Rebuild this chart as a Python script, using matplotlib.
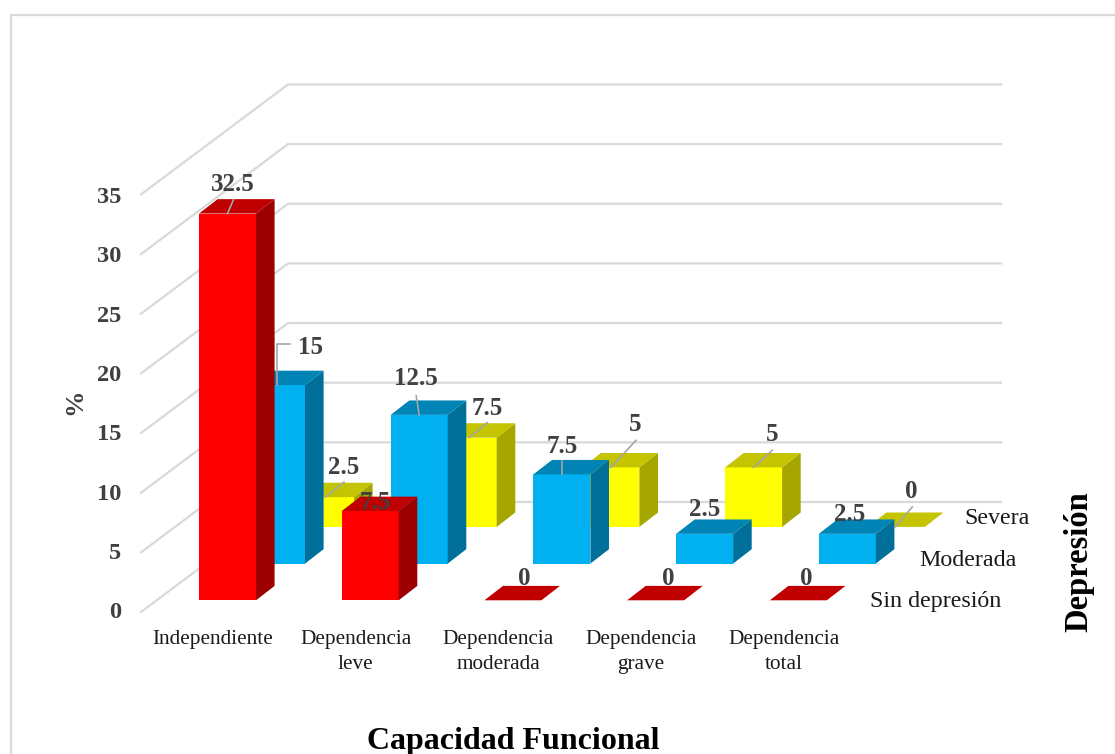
import matplotlib
matplotlib.use('Agg')
import matplotlib.pyplot as plt
from matplotlib.patches import Polygon

plt.rcParams['font.family'] = ['Liberation Serif', 'DejaVu Serif']

categories = ['Independiente', 'Dependencia\nleve', 'Dependencia\nmoderada', 'Dependencia\ngrave', 'Dependencia\ntotal']
series_names = ['Sin depresión', 'Moderada', 'Severa']
sin_depresion = [32.5, 7.5, 0, 0, 0]
moderada = [15, 12.5, 7.5, 2.5, 2.5]
severa = [2.5, 7.5, 5, 5, 0]
y_ticks = [0, 5, 10, 15, 20, 25, 30, 35]

# fake 3d layout, everything in pixels
X0 = 199.0          # left edge of first front bar
BASE = 600.3        # floor of the front row
CAT_STEP = 142.7
ROW_DX = 49.0
ROW_DY = 36.7
BAR_W = 57.0
DEPTH_X = 18.6
DEPTH_Y = 14.4
UNIT = 11.9

WALL_X0 = 141.0
WALL_X1 = 288.0
WALL_X2 = 1001.0
WALL_Y0 = 612.0
WALL_Y1 = 502.0
WALL_UNIT = 11.93

GRID = '#d9d9d9'
LABEL = '#404040'
LEADER = '#a6a6a6'

# (front, top, side)
row_colors = [('#ff0000', '#c00000', '#9c0000'),
              ('#00b0f0', '#0084b5', '#00709a'),
              ('#ffff00', '#c4c400', '#a6a600')]

# label centre relative to the middle of the bar top, one list per row
label_offsets = [[(5.5, -29), (5, -9), (11, -22), (13, -22), (8, -22)],
                 [(33.5, -38), (-3, -36), (0, -28), (0, -24), (2, -19)],
                 [(18.5, -30), (19, -29), (24, -43), (18.5, -33), (15, -35)]]
# leader start relative to the bar top middle, the end is given as x shift on the top edge
leader_offsets = [[((6, -14), 0), None, None, None, None],
                  [None, ((-3, -19), 0), ((0, -13), 0), None, None],
                  [((18.5, -15), 0), ((19, -15), 1), ((25, -27), 0), ((18.5, -17), 0), ((16, -20), -1)]]


def bar_box(cat, row, value):
    left = X0 + cat * CAT_STEP + row * ROW_DX
    bottom = BASE - row * ROW_DY
    return left, bottom, bottom - value * UNIT


def draw_bar(ax, cat, row, value, z):
    left, bottom, top = bar_box(cat, row, value)
    right = left + BAR_W
    front, roof, side = row_colors[row]
    if value > 0:
        ax.add_patch(Polygon([(left, bottom), (right, bottom), (right, top), (left, top)],
                             fc=front, ec='none', zorder=z))
        ax.add_patch(Polygon([(right, bottom), (right + DEPTH_X, bottom - DEPTH_Y),
                              (right + DEPTH_X, top - DEPTH_Y), (right, top)],
                             fc=side, ec='none', zorder=z))
    ax.add_patch(Polygon([(left, top), (right, top), (right + DEPTH_X, top - DEPTH_Y),
                          (left + DEPTH_X, top - DEPTH_Y)], fc=roof, ec='none', zorder=z))


fig = plt.figure(figsize=(11.15, 7.54), dpi=100)
ax = fig.add_axes([0, 0, 1, 1])
ax.set_xlim(0, 1115)
ax.set_ylim(754, 0)
ax.axis('off')

# chart frame, only top and left show up
ax.plot([11, 11, 1115], [754, 15, 15], color=GRID, lw=1.6, solid_joinstyle='miter', zorder=0)

# side wall and back wall lines
for v in y_ticks:
    ax.plot([WALL_X0, WALL_X1, WALL_X2],
            [WALL_Y0 - v * WALL_UNIT, WALL_Y1 - v * WALL_UNIT, WALL_Y1 - v * WALL_UNIT],
            color=GRID, lw=1.6, solid_joinstyle='miter', zorder=0)
    ax.text(121, 613 - v * 11.88, str(v), ha='right', va='center', fontsize=17.6,
            fontweight='bold', color=LABEL)

rows = [sin_depresion, moderada, severa]

# back row first so the front ones cover it
for row in [2, 1, 0]:
    for cat, value in enumerate(rows[row]):
        draw_bar(ax, cat, row, value, 3 - row)

# labels go on top of all the bars
for row in [2, 1, 0]:
    for cat, value in enumerate(rows[row]):
        left, bottom, top = bar_box(cat, row, value)
        mid = left + BAR_W / 2
        lead = leader_offsets[row][cat]
        if lead is not None:
            (sx, sy), ex = lead
            ax.plot([mid + sx, mid + ex], [top + sy, top], color=LEADER, lw=1.2, zorder=5)
        dx, dy = label_offsets[row][cat]
        ax.text(mid + dx, top + dy, '%g' % value, ha='center', va='center', fontsize=18,
                fontweight='bold', color=LABEL, zorder=6)

# the 15 leader has an elbow, its bar sits behind the red one
left, bottom, top = bar_box(0, 1, moderada[0])
mid = left + BAR_W / 2
ax.plot([mid, mid, mid + 13], [top, top - 41, top - 41], color=LEADER, lw=1.2, zorder=5)

# category names under the front row
for cat, name in enumerate(categories):
    ax.text(X0 + 14 + cat * CAT_STEP, 630, name, ha='center', va='top', fontsize=15.3,
            color='#1a1a1a', linespacing=1.42)

# series names at the end of each row
series_x = [1001, 1017, 1030]
series_y = [602, 561, 519]
for name, sx, sy in zip(series_names, series_x, series_y):
    ax.text(sx, sy, name, ha='right', va='center', fontsize=17.3, color='#1a1a1a')

ax.text(75, 402, '%', rotation=90, ha='center', va='center', fontsize=19, fontweight='bold', color=LABEL)
ax.text(513, 741, 'Capacidad Funcional', ha='center', va='center', fontsize=23, fontweight='bold', color='black')
ax.text(1079, 562, 'Depresión', rotation=90, ha='center', va='center', fontsize=23.5, fontweight='bold', color='black')

fig.savefig('out.png', dpi=100)
